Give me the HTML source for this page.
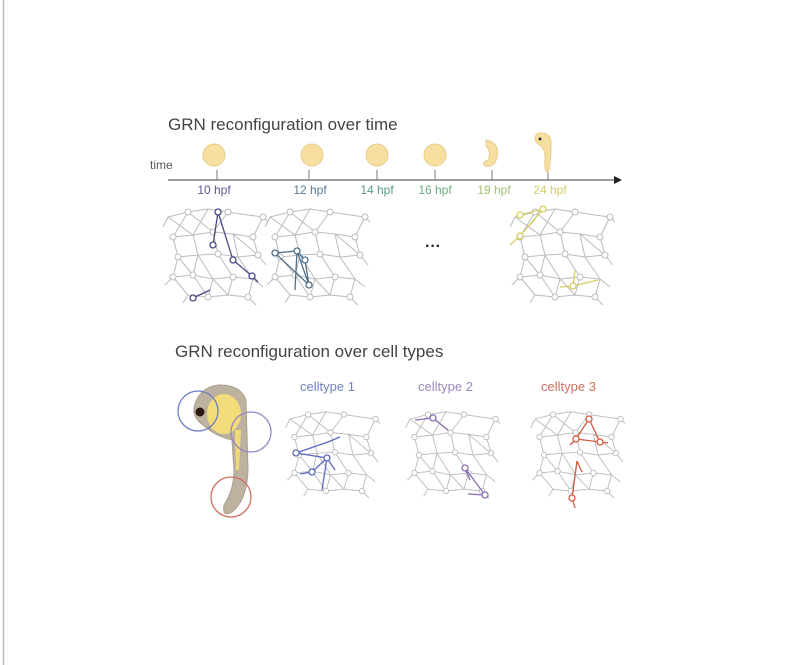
<!DOCTYPE html>
<html><head><meta charset="utf-8"><style>
html,body{margin:0;padding:0;background:#fff;width:811px;height:665px;overflow:hidden}
svg{display:block}
text{font-family:"Liberation Sans",sans-serif}
</style></head><body>
<svg width="811" height="665" viewBox="0 0 811 665" xmlns="http://www.w3.org/2000/svg">
<defs>
<g id="net" stroke="#bbb" stroke-width="1" fill="none">
<path d="M0 10L20 5L40 2L60 5L80 8L95 10M5 30L25 28L45 25L65 27L85 30M10 50L30 48L50 47L70 50L90 48M5 70L25 68L45 72L65 70L85 72M20 88L40 90L60 88L80 90
M0 10L25 28L40 2M45 25L60 5M85 30L95 10M20 5L5 30M30 48L25 28M50 47L45 25M70 50L65 27M90 48L85 30
M5 30L10 50L5 70L20 88M25 68L30 48M45 72L40 90M65 70L60 88M85 72L80 90M10 50L25 68M50 47L65 70M70 50L85 72
M20 5L45 25M65 27L90 48M30 48L45 72M25 68L40 90M45 72L60 88M0 10L-5 20M95 10L100 15M90 48L98 58M85 72L95 80M5 70L-3 78M20 88L15 96M80 90L88 98"/>
<g fill="#fff">
<circle cx="20" cy="5" r="3"/><circle cx="60" cy="5" r="3"/><circle cx="95" cy="10" r="3"/>
<circle cx="5" cy="30" r="3"/><circle cx="45" cy="25" r="3"/><circle cx="85" cy="30" r="3"/>
<circle cx="10" cy="50" r="3"/><circle cx="50" cy="47" r="3"/><circle cx="90" cy="48" r="3"/>
<circle cx="25" cy="68" r="3"/><circle cx="65" cy="70" r="3"/><circle cx="5" cy="70" r="3"/>
<circle cx="40" cy="90" r="3"/><circle cx="80" cy="90" r="3"/>
</g></g>
</defs>
<line x1="3.5" y1="0" x2="3.5" y2="665" stroke="#bbb" stroke-width="1.5"/>

<text x="168" y="130" font-size="17" fill="#444">GRN reconfiguration over time</text>
<text x="150" y="169" font-size="12" fill="#555">time</text>
<line x1="168" y1="180" x2="614" y2="180" stroke="#666" stroke-width="1.2"/>
<polygon points="614,176 622,180 614,184" fill="#222"/>
<g stroke="#777" stroke-width="1">
<line x1="217" y1="170" x2="217" y2="180"/><line x1="309" y1="170" x2="309" y2="180"/><line x1="377" y1="170" x2="377" y2="180"/><line x1="435" y1="170" x2="435" y2="180"/><line x1="492" y1="170" x2="492" y2="180"/><line x1="548" y1="170" x2="548" y2="180"/>
</g>
<g font-size="12" text-anchor="middle">
<text x="214" y="194" fill="#5b5a8f">10 hpf</text>
<text x="310" y="194" fill="#5a7a94">12 hpf</text>
<text x="377" y="194" fill="#5a9a8a">14 hpf</text>
<text x="435" y="194" fill="#6aaa80">16 hpf</text>
<text x="494" y="194" fill="#a0c070">19 hpf</text>
<text x="550" y="194" fill="#d6cc6a">24 hpf</text>
</g>
<g fill="#f6dfa0" stroke="#e8cd8c" stroke-width="1">
<circle cx="214" cy="155" r="11"/>
<circle cx="312" cy="155" r="11"/>
<circle cx="377" cy="155" r="11"/>
<circle cx="435" cy="155" r="11"/>
<path d="M486 140 Q500 142 497 158 Q494 168 485 166 Q481 163 488 160 Q492 152 486 146Z"/>
<path d="M538 133 Q552 132 551 145 Q551 165 548 172 Q544 172 545 160 Q546 148 538 144 Q532 138 538 133Z"/>
</g>
<circle cx="540" cy="139" r="1.5" fill="#333"/>

<use href="#net" x="168" y="207"/>
<use href="#net" x="270" y="207"/>
<use href="#net" x="515" y="207"/>
<text x="425" y="251" font-size="16" fill="#222" font-weight="bold">···</text>
<g stroke="#4a4a8a" stroke-width="1.3" fill="#fff">
<path d="M218 212L213 245M218 212L233 260L252 276L258 282M193 298L210 290" fill="none"/>
<circle cx="218" cy="212" r="3"/><circle cx="213" cy="245" r="3"/><circle cx="233" cy="260" r="3"/><circle cx="252" cy="276" r="3"/><circle cx="193" cy="298" r="3"/>
</g>
<g stroke="#50708a" stroke-width="1.3" fill="#fff">
<path d="M275 253L297 251L309 285L275 253M297 251L305 260L309 285M297 251L295 290" fill="none"/>
<circle cx="275" cy="253" r="3"/><circle cx="297" cy="251" r="3"/><circle cx="305" cy="260" r="3"/><circle cx="309" cy="285" r="3"/>
</g>
<g stroke="#d8cc60" stroke-width="1.3" fill="#fff">
<path d="M520 215L543 209L520 236L510 245M543 209L530 225M575 270L573 286L598 280M573 286L560 287" fill="none"/>
<circle cx="520" cy="215" r="3"/><circle cx="543" cy="209" r="3"/><circle cx="520" cy="236" r="3"/><circle cx="573" cy="286" r="3"/>
</g>

<text x="175" y="357" font-size="17" fill="#444">GRN reconfiguration over cell types</text>
<g font-size="13">
<text x="300" y="391" fill="#7080c0">celltype 1</text>
<text x="418" y="391" fill="#9a88c0">celltype 2</text>
<text x="541" y="391" fill="#d07060">celltype 3</text>
</g>
<!-- embryo -->
<path d="M194 408 Q198 388 218 385 Q240 384 246 400 L248 470 Q247 500 232 512 Q222 518 224 505 Q234 490 234 470 L232 440 Q215 436 203 425 Q193 418 194 408Z" fill="#bdb2a0" stroke="#a89f8e" stroke-width="1"/>
<ellipse cx="224" cy="414" rx="17" ry="20" fill="#f3dc7a"/>
<path d="M235 430 L241 430 L239 470 L236 470Z" fill="#f1d878"/>
<circle cx="200" cy="412" r="4.5" fill="#2a1a10"/>
<circle cx="198" cy="411" r="20" fill="none" stroke="#7080c0" stroke-width="1.3"/>
<circle cx="251" cy="432" r="20" fill="none" stroke="#9a88c0" stroke-width="1.3"/>
<circle cx="231" cy="497" r="20" fill="none" stroke="#d07060" stroke-width="1.3"/>

<use href="#net" x="290" y="410" transform="translate(290 410) scale(0.9) translate(-290 -410)"/>
<use href="#net" x="410" y="410" transform="translate(410 410) scale(0.9) translate(-410 -410)"/>
<use href="#net" x="535" y="410" transform="translate(535 410) scale(0.9) translate(-535 -410)"/>
<g stroke="#5a6ac0" stroke-width="1.3" fill="#fff">
<path d="M296 453L328 442L340 437M296 453L327 458L335 470M327 458L312 472L300 474M327 458L322 490" fill="none"/>
<circle cx="296" cy="453" r="3"/><circle cx="327" cy="458" r="3"/><circle cx="312" cy="472" r="3"/>
</g>
<g stroke="#8a70b0" stroke-width="1.3" fill="#fff">
<path d="M415 420L433 418L448 430M465 468L485 495L468 494M465 468L470 480" fill="none"/>
<circle cx="433" cy="418" r="3"/><circle cx="465" cy="468" r="3"/><circle cx="485" cy="495" r="3"/>
</g>
<g stroke="#d05a40" stroke-width="1.3" fill="#fff">
<path d="M589 419L576 439L600 442L589 419M576 439L570 445M600 442L608 443M577 461L572 498L575 508M577 461L582 472" fill="none"/>
<circle cx="589" cy="419" r="3"/><circle cx="576" cy="439" r="3"/><circle cx="600" cy="442" r="3"/><circle cx="572" cy="498" r="3"/>
</g>
</svg>
</body></html>
